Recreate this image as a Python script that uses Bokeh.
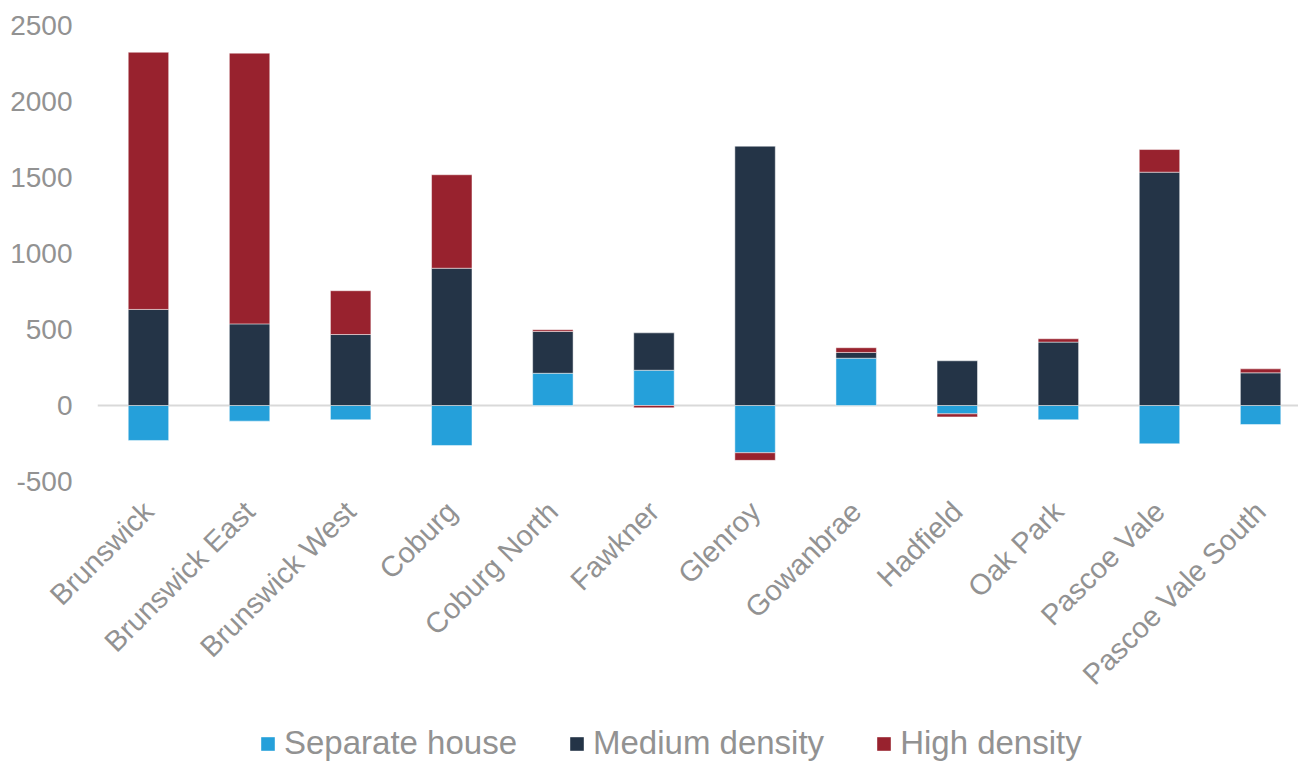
import math
import numpy as np
from bokeh.plotting import figure
from bokeh.layouts import column
from bokeh.models import ColumnDataSource, Range1d, FixedTicker, Span, Legend, LegendItem
from bokeh.embed import file_html
from bokeh.resources import INLINE

categories = ["Brunswick", "Brunswick East", "Brunswick West", "Coburg", "Coburg North",
              "Fawkner", "Glenroy", "Gowanbrae", "Hadfield", "Oak Park", "Pascoe Vale",
              "Pascoe Vale South"]
series_names = ["Separate house", "Medium density", "High density"]
separate_house = [-230, -103, -94, -263, 212, 232, -311, 311, -55, -94, -252, -125]
medium_density = [632, 537, 467, 903, 275, 246, 1706, 38, 294, 417, 1535, 215]
high_density = [1692, 1781, 288, 615, 11, -15, -50, 31, -20, 22, 149, 26]
y_ticks = [-500, 0, 500, 1000, 1500, 2000, 2500]

colors = ["#25A0DA", "#243447", "#98222E"]
GRAY = "#929292"
FONT = "Liberation Sans"

x = np.arange(len(categories))
x_range = Range1d(-0.504, 11.375)
p = figure(width=1298, height=712, output_backend="svg", toolbar_location=None,
           x_range=x_range, y_range=Range1d(-500, 2500),
           min_border_left=97, min_border_right=0, min_border_top=25, min_border_bottom=231)
p.outline_line_color = None
p.xgrid.visible = False
p.ygrid.visible = False

p.add_layout(Span(location=0, dimension="width", line_color="#D9D9D9", line_width=2, level="underlay"))

pos_base = np.zeros(len(categories))
neg_base = np.zeros(len(categories))
sources = []
for name, vals, col in zip(series_names, [separate_house, medium_density, high_density], colors):
    v = np.array(vals, dtype=float)
    bottom = np.where(v >= 0, pos_base, neg_base)
    top = bottom + v
    pos_base = np.where(v >= 0, top, pos_base)
    neg_base = np.where(v < 0, top, neg_base)
    src = ColumnDataSource(dict(x=x, bottom=bottom, top=top))
    p.vbar(x="x", bottom="bottom", top="top", width=0.4, source=src,
           fill_color=col, line_color="white", line_width=0.8, line_alpha=0.6)
    sources.append((name, src, col))

p.yaxis.ticker = FixedTicker(ticks=y_ticks)
p.yaxis.major_label_overrides = {int(t): str(t) for t in y_ticks}
p.xaxis.ticker = FixedTicker(ticks=list(range(len(categories))))
p.xaxis.major_label_overrides = {int(i): c for i, c in enumerate(categories)}
p.xaxis.major_label_orientation = math.pi / 4
for ax in (p.xaxis[0], p.yaxis[0]):
    ax.axis_line_color = None
    ax.major_tick_line_color = None
    ax.minor_tick_line_color = None
    ax.major_tick_out = 0
    ax.major_tick_in = 0
    ax.major_label_text_font = FONT
    ax.major_label_text_color = GRAY
p.yaxis.major_label_text_font_size = "28px"
p.xaxis.major_label_text_font_size = "29px"
p.yaxis.major_label_standoff = 25
p.xaxis.major_label_standoff = 25

# Legend strip below the chart (same series, drawn outside its visible range)
lf = figure(width=1298, height=50, output_backend="svg", toolbar_location=None,
            x_range=x_range, y_range=Range1d(100000, 100001),
            min_border=0, min_border_left=0, min_border_right=0, min_border_top=0, min_border_bottom=0)
lf.outline_line_color = None
lf.axis.visible = False
lf.grid.visible = False
items = []
for name, src, col in sources:
    r = lf.vbar(x="x", bottom="bottom", top="top", width=0.4, source=src,
                fill_color=col, line_color=None)
    items.append(LegendItem(label=name, renderers=[r]))
legend = Legend(items=items, orientation="horizontal", location=(162, 0),
                background_fill_alpha=0, border_line_color=None, padding=0, margin=0,
                spacing=51, label_standoff=8, glyph_width=17, glyph_height=17,
                label_text_font=FONT, label_text_font_size="33px", label_text_color=GRAY)
lf.add_layout(legend)

open("out.html", "w").write(file_html(column(p, lf, spacing=0), INLINE))
